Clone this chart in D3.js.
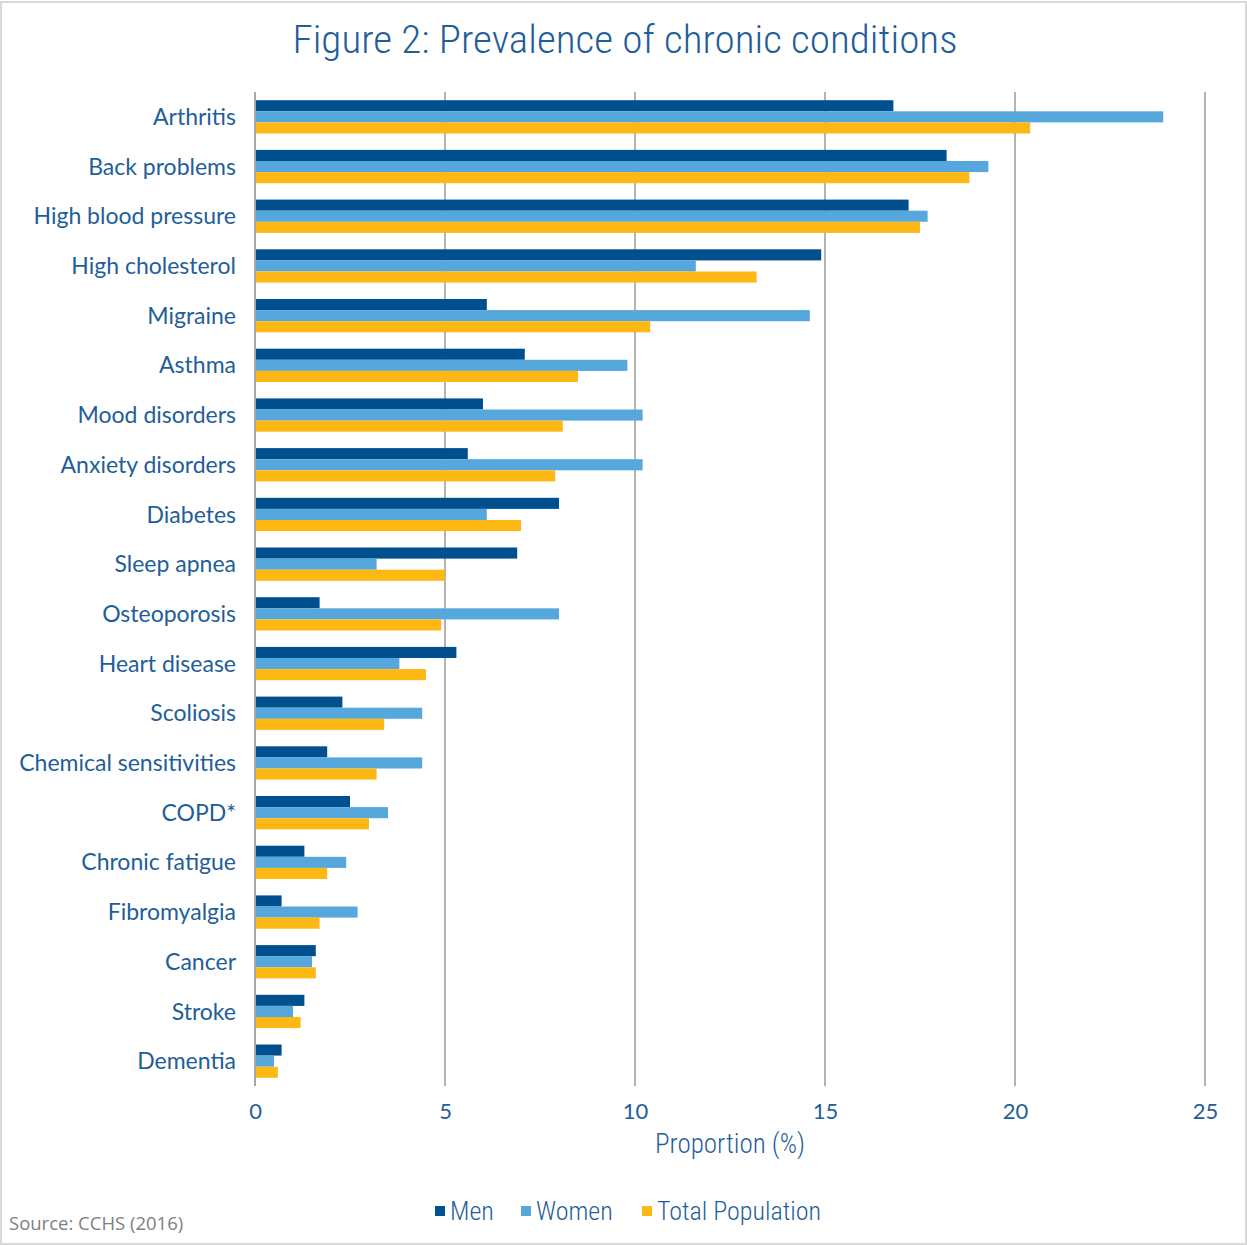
<!DOCTYPE html>
<html>
<head>
<meta charset="utf-8">
<script src="https://cdn.jsdelivr.net/npm/d3@7/dist/d3.min.js"></script>
<style>
  html, body { margin: 0; padding: 0; background: #fff; }
  svg { display: block; }
  .cond { font-family: "Roboto Condensed", "Liberation Sans Narrow", "Open Sans", sans-serif; font-stretch: condensed; font-weight: 300; }
  .lab { font-family: Lato, "Open Sans", sans-serif; font-weight: 400; }
</style>
</head>
<body>
<script>
// Chronic condition prevalence (%) by group
const categories = ["Arthritis", "Back problems", "High blood pressure", "High cholesterol", "Migraine",
  "Asthma", "Mood disorders", "Anxiety disorders", "Diabetes", "Sleep apnea", "Osteoporosis",
  "Heart disease", "Scoliosis", "Chemical sensitivities", "COPD*", "Chronic fatigue",
  "Fibromyalgia", "Cancer", "Stroke", "Dementia"];
const men   = [16.8, 18.2, 17.2, 14.9, 6.1, 7.1, 6.0, 5.6, 8.0, 6.9, 1.7, 5.3, 2.3, 1.9, 2.5, 1.3, 0.7, 1.6, 1.3, 0.7];
const women = [23.9, 19.3, 17.7, 11.6, 14.6, 9.8, 10.2, 10.2, 6.1, 3.2, 8.0, 3.8, 4.4, 4.4, 3.5, 2.4, 2.7, 1.5, 1.0, 0.5];
const total = [20.4, 18.8, 17.5, 13.2, 10.4, 8.5, 8.1, 7.9, 7.0, 5.0, 4.9, 4.5, 3.4, 3.2, 3.0, 1.9, 1.7, 1.6, 1.2, 0.6];
const seriesNames = ["Men", "Women", "Total Population"];
const xTicks = [0, 5, 10, 15, 20, 25];

const W = 1247, H = 1245;
const colors = ["#00508F", "#56A8DC", "#FDB813"];
const textColor = "#1F5E99";

const svg = d3.select("body").append("svg").attr("width", W).attr("height", H);

// outer frame
svg.append("rect").attr("x", 1).attr("y", 2).attr("width", W - 2).attr("height", H - 3)
  .attr("fill", "#fff").attr("stroke", "#d9d9d9").attr("stroke-width", 2);

const plotL = 255, plotR = 1205, plotT = 92, plotB = 1086;

const x = d3.scaleLinear().domain([0, 25]).range([plotL, plotR]);
const y = d3.scaleBand().domain(categories).range([plotT, plotB]).paddingInner(0.33).paddingOuter(0.165);
const inner = d3.scaleBand().domain(seriesNames).range([0, y.bandwidth()]);

// title
svg.append("text").attr("class", "cond").attr("x", 625).attr("y", 53)
  .attr("text-anchor", "middle").attr("font-size", 38).attr("fill", textColor)
  .attr("textLength", 665).attr("lengthAdjust", "spacingAndGlyphs")
  .text("Figure 2: Prevalence of chronic conditions");

// vertical gridlines
svg.append("g").selectAll("line").data(xTicks.slice(1)).join("line")
  .attr("x1", d => x(d)).attr("x2", d => x(d))
  .attr("y1", plotT).attr("y2", plotB)
  .attr("stroke", "#b3b3b3").attr("stroke-width", 2);

// bars
const data = categories.map((c, i) => ({ c, vals: [men[i], women[i], total[i]] }));
const groups = svg.append("g").selectAll("g").data(data).join("g")
  .attr("transform", d => `translate(0,${y(d.c)})`);
groups.selectAll("rect").data(d => d.vals.map((v, k) => ({ v, k }))).join("rect")
  .attr("x", x(0)).attr("y", d => inner(seriesNames[d.k]))
  .attr("width", d => x(d.v) - x(0)).attr("height", inner.bandwidth())
  .attr("fill", d => colors[d.k]);

// category axis line
svg.append("line").attr("x1", plotL).attr("x2", plotL).attr("y1", plotT).attr("y2", plotB)
  .attr("stroke", "#a6a6a6").attr("stroke-width", 2);

// category labels
svg.append("g").selectAll("text").data(categories).join("text")
  .attr("class", "lab")
  .attr("x", 236).attr("y", d => y(d) + y.bandwidth() / 2)
  .attr("dy", "0.35em").attr("text-anchor", "end")
  .attr("font-size", 23).attr("fill", textColor).text(d => d);

// x tick labels
const xAxis = svg.append("g").attr("transform", `translate(0,${plotB})`)
  .call(d3.axisBottom(x).tickValues(xTicks).tickSize(0).tickPadding(17).tickFormat(d3.format("d")));
xAxis.select(".domain").remove();
xAxis.selectAll("text").attr("class", "lab").attr("font-size", 22).attr("fill", textColor);

// axis title
svg.append("text").attr("class", "cond").attr("x", 730).attr("y", 1153)
  .attr("text-anchor", "middle").attr("font-size", 27).attr("fill", textColor)
  .text("Proportion (%)");

// legend
const legendX = [435, 521, 642];
const lg = svg.append("g").selectAll("g").data(seriesNames).join("g")
  .attr("transform", (d, i) => `translate(${legendX[i]},1211)`);
lg.append("rect").attr("x", 0).attr("y", -5).attr("width", 10).attr("height", 10)
  .attr("fill", (d, i) => colors[i]);
lg.append("text").attr("class", "cond").attr("x", 15).attr("y", 0).attr("dy", "0.35em")
  .attr("font-size", 26).attr("fill", textColor).text(d => d);

// source note
svg.append("text").attr("x", 9).attr("y", 1230)
  .attr("font-family", "'Open Sans', sans-serif").attr("font-size", 18.5).attr("fill", "#7f7f7f")
  .text("Source: CCHS (2016)");
</script>
</body>
</html>
